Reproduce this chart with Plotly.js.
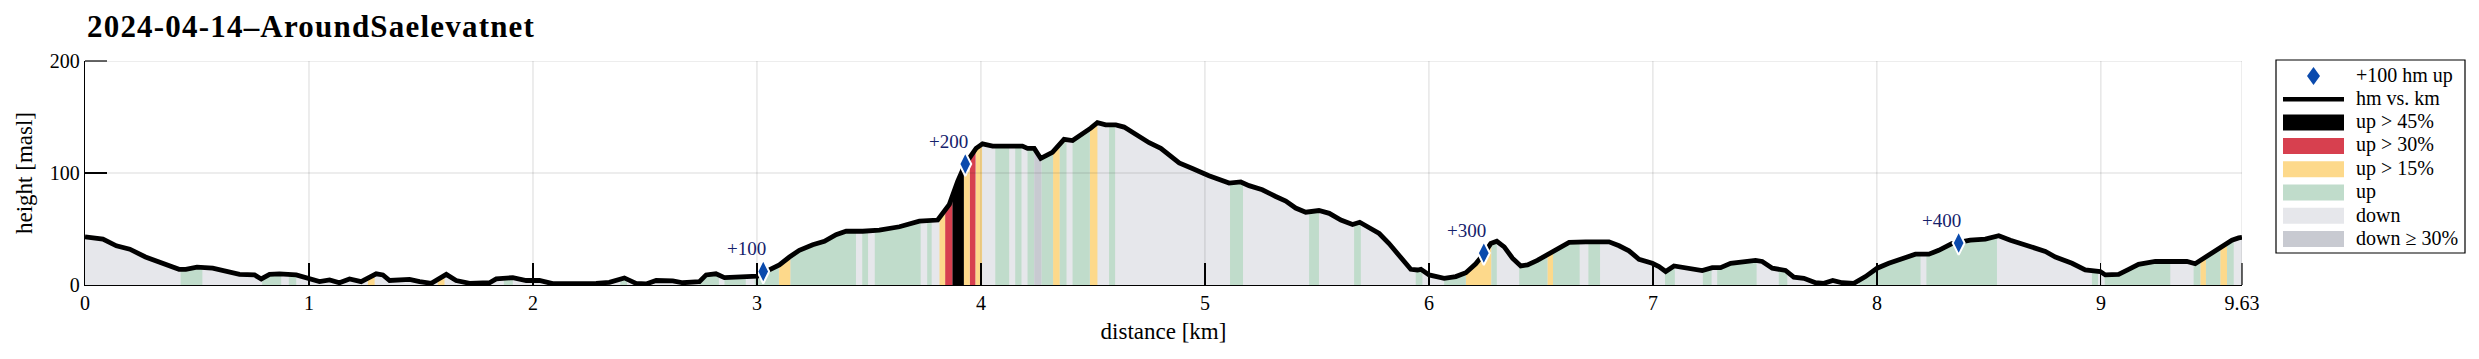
<!DOCTYPE html>
<html><head><meta charset="utf-8">
<script src="https://cdn.plot.ly/plotly-3.0.1.min.js"></script>
<style>html,body{margin:0;padding:0;background:#fff} .gtitle{letter-spacing:1.2px}</style>
</head><body><div id="chart" style="width:2479px;height:359px"></div>
<script>
// ---------- data ----------
const distKm = [0.00,0.08,0.14,0.20,0.27,0.35,0.42,0.45,0.50,0.57,0.63,0.69,0.757,0.787,0.824,0.868,0.943,1.002,1.047,1.092,1.136,1.181,1.233,1.300,1.330,1.360,1.405,1.449,1.494,1.546,1.613,1.657,1.717,1.806,1.836,1.910,1.970,2.029,2.088,2.193,2.282,2.341,2.408,2.460,2.505,2.550,2.624,2.669,2.743,2.773,2.817,2.855,2.907,2.966,3.003,3.030,3.070,3.100,3.145,3.189,3.249,3.301,3.353,3.398,3.472,3.546,3.636,3.725,3.807,3.859,3.896,3.930,3.978,4.007,4.052,4.126,4.185,4.208,4.238,4.267,4.319,4.371,4.409,4.490,4.520,4.557,4.602,4.639,4.691,4.751,4.803,4.847,4.885,4.944,5.018,5.108,5.160,5.197,5.256,5.316,5.361,5.405,5.450,5.509,5.555,5.607,5.659,5.691,5.726,5.778,5.822,5.874,5.919,5.949,5.964,6.001,6.068,6.120,6.165,6.209,6.246,6.276,6.303,6.336,6.373,6.410,6.440,6.484,6.536,6.581,6.626,6.700,6.804,6.849,6.893,6.938,6.997,7.027,7.057,7.094,7.146,7.220,7.265,7.302,7.347,7.406,7.458,7.488,7.533,7.592,7.629,7.674,7.726,7.763,7.803,7.845,7.897,7.949,8.001,8.053,8.128,8.172,8.232,8.276,8.335,8.365,8.417,8.484,8.544,8.596,8.663,8.752,8.797,8.871,8.930,8.968,8.997,9.020,9.079,9.124,9.168,9.243,9.317,9.384,9.421,9.466,9.510,9.555,9.585,9.615,9.630];
const elevM = [43,41,35,32,25,19,14,14,16,15,12,9.5,9,5.4,9.5,10,9,6,3,4.5,2,5.4,3,10,9,4,4.5,5,3,1.5,9.5,4,1.5,2,5.4,6.6,4,4,1.2,0.9,1.5,2.4,6.3,1.5,0.9,4,3.6,2,3,9,10,6.6,6.9,7.8,8,11,15,18,25,31,36,39,45,48,48,49,52,57,58,72,92.5,108,122,126,124,124,124,122,122,113,118.5,130,129,140,145,143,143,141,134,127,122,115,109,104,97.6,91,92,88.7,85,79,75,68.7,65,66.5,64,58,54,56,52,46,37,24,14,13.4,14,9,6,7.5,11,19,28,37,39,34,24,17,18,22,28,33,38,38.5,38.5,35,30.5,23,19.4,16.4,12,17,15,12.8,15.5,15.5,19.4,20.6,22,21,15,13,7,6,2,1.5,4,2,1.5,7.5,15,19.4,24,27.5,27.5,31,37,38,40,41,44,40,36,30,25,19.4,13.4,12,12,9,9.5,14,18.5,21,21,21,19,25,31,36,40,42,42.5];

const bandStart = [0.427,0.791,0.910,1.263,1.575,1.870,2.390,2.743,2.855,2.990,3.098,3.150,3.470,3.526,3.760,3.815,3.840,3.872,3.924,3.950,3.976,4.064,4.153,4.208,4.238,4.270,4.322,4.352,4.409,4.486,4.572,5.112,5.465,5.666,5.941,6.068,6.165,6.279,6.403,6.529,6.554,6.712,7.054,7.223,7.287,7.562,7.919,8.221,8.960,9.017,9.414,9.444,9.469,9.533,9.563];
const bandEnd   = [0.524,0.876,0.943,1.293,1.605,1.910,2.420,2.830,2.950,3.098,3.150,3.442,3.496,3.731,3.780,3.840,3.872,3.924,3.950,3.976,4.005,4.126,4.181,4.238,4.270,4.322,4.352,4.382,4.486,4.520,4.599,5.170,5.509,5.696,5.971,6.165,6.279,6.303,6.529,6.554,6.673,6.764,7.098,7.262,7.463,7.600,8.195,8.536,8.987,9.310,9.444,9.469,9.533,9.563,9.593];
const bandCat   = ['up','up','up','up15','up15','up','up','up','up','up','up15','up','up','up','up','up15','up30','up45','up15','up30','up15','up','up','up','down30','up','up15','up','up','up15','up','up','up','up','up','up','up15','up','up','up15','up','up','up','up','up','up','up','up','up','up','up','up15','up','up15','up'];

const markerKm = [3.028, 3.930, 6.245, 8.365];
const markerElev = [12, 108, 28.5, 37.5];
const markerLabels = ['+100', '+200', '+300', '+400'];

const xTickVals = [0,1,2,3,4,5,6,7,8,9,9.63];
const xTickText = ['0','1','2','3','4','5','6','7','8','9','9.63'];
const yTickVals = [0,100,200];
const yTickText = ['0','100','200'];

const categories = ['up45','up30','up15','up','down','down30'];
const catLabels  = ['up > 45%','up > 30%','up > 15%','up','down','down \u2265 30%'];
const catColors  = ['#000000','#d7404f','#fdd98b','#c0dccb','#e6e7eb','#c8cad1'];

const titleText = '2024-04-14\u2013AroundSaelevatnet';
const markerLegend = '+100 hm up';
const lineLegend = 'hm vs. km';

// ---------- build ----------
const FONT = 'Liberation Serif, Times New Roman, serif';
const W = 2479, H = 359, L = 85, R = 237, T = 61, B = 74;
const PW = W - L - R, PH = H - T - B;
const TICKLEN = 22;
const px2x = p => (p - L) / PW;
const px2y = p => 1 - (p - T) / PH;

function interp(x) {
  for (let i = 0; i < distKm.length - 1; i++) {
    if (x >= distKm[i] && x <= distKm[i + 1]) {
      const t = (x - distKm[i]) / (distKm[i + 1] - distKm[i]);
      return elevM[i] + t * (elevM[i + 1] - elevM[i]);
    }
  }
  return elevM[elevM.length - 1];
}
const colorOf = c => catColors[categories.indexOf(c)];

const traces = [];
traces.push({x: distKm, y: elevM, type: 'scatter', mode: 'lines', fill: 'tozeroy',
  fillcolor: colorOf('down'), line: {width: 0}, showlegend: false, hoverinfo: 'skip'});

categories.filter(c => c !== 'down').forEach(c => {
  const px = [], py = [];
  bandStart.forEach((a, i) => {
    if (bandCat[i] !== c) return;
    const b = bandEnd[i];
    px.push(a, a); py.push(0, interp(a));
    distKm.forEach((d, j) => { if (d > a && d < b) { px.push(d); py.push(elevM[j]); } });
    px.push(b, b, null); py.push(interp(b), 0, null);
  });
  if (px.length) traces.push({x: px, y: py, type: 'scatter', mode: 'lines', fill: 'toself',
    fillcolor: colorOf(c), line: {width: 0, color: colorOf(c)}, connectgaps: false,
    showlegend: false, hoverinfo: 'skip'});
});

traces.push({x: distKm, y: elevM, type: 'scatter', mode: 'lines',
  line: {color: '#000', width: 4.8}, showlegend: false, hoverinfo: 'skip'});
traces.push({x: markerKm, y: markerElev, type: 'scatter', mode: 'markers',
  marker: {symbol: 'diamond-tall', size: 17, color: '#0a4aad', line: {color: '#fff', width: 2}},
  showlegend: false, hoverinfo: 'skip'});

const annotations = markerKm.map((k, i) => ({x: k, y: markerElev[i], xref: 'x', yref: 'y',
  text: markerLabels[i], showarrow: false, xshift: -17, yshift: 23,
  font: {family: FONT, size: 19, color: '#15216b'}}));

const shapes = [];
const gridColor = 'rgba(38,38,38,0.17)';
xTickVals.slice(1).forEach(v => shapes.push({type: 'line', xref: 'x', yref: 'paper',
  x0: v, x1: v, y0: 0, y1: 1, line: {color: gridColor, width: 1}, layer: 'above'}));
yTickVals.slice(1).forEach(v => shapes.push({type: 'line', xref: 'paper', yref: 'y',
  x0: 0, x1: 1, y0: v, y1: v, line: {color: gridColor, width: 1}, layer: 'above'}));
// inward ticks at the axis range ends (Plotly drops these); drawn in paper coords so they are not clipped
shapes.push({type: 'line', xref: 'paper', yref: 'paper', x0: 1, x1: 1, y0: 0, y1: TICKLEN / PH,
  line: {color: '#000', width: 1.2}, layer: 'above'});
shapes.push({type: 'line', xref: 'paper', yref: 'paper', x0: 0, x1: TICKLEN / PW, y0: 1, y1: 1,
  line: {color: '#000', width: 1.2}, layer: 'above'});

// legend (drawn with shapes + text)
const LG = {x0: 2276, x1: 2465, y0: 60, y1: 253, row0: 76, pitch: 23.3, patchX0: 2283, patchX1: 2344, textX: 2354, patchH: 16};
shapes.push({type: 'rect', xref: 'paper', yref: 'paper', x0: px2x(LG.x0), x1: px2x(LG.x1),
  y0: px2y(LG.y1), y1: px2y(LG.y0), line: {color: '#000', width: 1.2}, fillcolor: '#fff', layer: 'above'});
const legendTexts = [markerLegend, lineLegend].concat(catLabels);
legendTexts.forEach((t, i) => {
  const cy = LG.row0 + i * LG.pitch;
  annotations.push({xref: 'paper', yref: 'paper', x: px2x(LG.textX), y: px2y(cy - 1),
    xanchor: 'left', yanchor: 'middle', text: t, showarrow: false,
    font: {family: FONT, size: 20, color: '#000'}});
  if (i === 0) {
    const cx = (LG.patchX0 + LG.patchX1) / 2;
    shapes.push({type: 'path', xref: 'paper', yref: 'paper', layer: 'above',
      path: `M ${px2x(cx)},${px2y(cy - 9)} L ${px2x(cx + 6.5)},${px2y(cy)} L ${px2x(cx)},${px2y(cy + 9)} L ${px2x(cx - 6.5)},${px2y(cy)} Z`,
      fillcolor: '#0a4aad', line: {width: 0}});
  } else if (i === 1) {
    shapes.push({type: 'line', xref: 'paper', yref: 'paper', layer: 'above',
      x0: px2x(LG.patchX0), x1: px2x(LG.patchX1), y0: px2y(cy), y1: px2y(cy),
      line: {color: '#000', width: 4.5}});
  } else {
    shapes.push({type: 'rect', xref: 'paper', yref: 'paper', layer: 'above',
      x0: px2x(LG.patchX0), x1: px2x(LG.patchX1), y0: px2y(cy + LG.patchH / 2), y1: px2y(cy - LG.patchH / 2),
      fillcolor: catColors[i - 2], line: {width: 0}});
  }
});

const axisCommon = {ticks: 'inside', ticklen: TICKLEN, tickwidth: 1.2, tickcolor: '#000',
  showline: true, linecolor: '#000', linewidth: 1.2, showgrid: false, zeroline: false,
  layer: 'above traces', fixedrange: true, tickfont: {family: FONT, size: 20, color: '#000'}};

const layout = {
  width: W, height: H, paper_bgcolor: '#fff', plot_bgcolor: '#fff', showlegend: false,
  margin: {l: L, r: R, t: T, b: B, pad: 0},
  title: {text: '<b>' + titleText + '</b>', x: 87 / W, xref: 'container', xanchor: 'left',
    y: 1 - 26 / H, yref: 'container', yanchor: 'middle',
    font: {family: FONT, size: 31, color: '#000'}},
  xaxis: Object.assign({}, axisCommon, {range: [0, 9.63], tickmode: 'array', tickvals: xTickVals, ticktext: xTickText,
    title: {text: 'distance [km]', font: {family: FONT, size: 23, color: '#000'}, standoff: 9}}),
  yaxis: Object.assign({}, axisCommon, {range: [0, 200], tickmode: 'array', tickvals: yTickVals, ticktext: yTickText,
    title: {text: 'height [masl]', font: {family: FONT, size: 23, color: '#000'}, standoff: 10}}),
  shapes: shapes, annotations: annotations
};

Plotly.newPlot('chart', traces, layout, {staticPlot: true, displayModeBar: false});
</script>
</body></html>
